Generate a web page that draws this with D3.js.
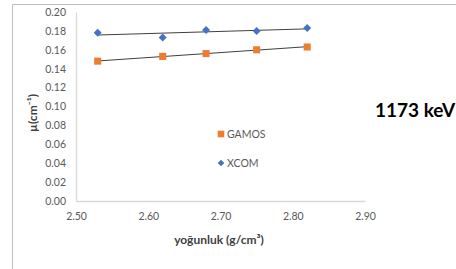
<!DOCTYPE html>
<html>
<head>
<meta charset="utf-8">
<script src="https://cdn.jsdelivr.net/npm/d3@7"></script>
<style>
	body { margin: 0; background: #fff; }
	svg { display: block; font-family: Lato, 'Open Sans', sans-serif; }
</style>
</head>
<body>
<div id="chart"></div>
<script>
const WIDTH = 456;
const HEIGHT = 269;

// density values (g/cm3)
const densities = [2.53, 2.62, 2.68, 2.75, 2.82];
const gamosValues = [0.148, 0.153, 0.156, 0.160, 0.163];
const xcomValues = [0.178, 0.173, 0.181, 0.180, 0.183];
const xTicks = [2.50, 2.60, 2.70, 2.80, 2.90];
const yTicks = [0.00, 0.02, 0.04, 0.06, 0.08, 0.10, 0.12, 0.14, 0.16, 0.18, 0.20];

// diamonds are squares turned 45 degrees, like the office-style marker
const series = [
	{ name: 'GAMOS', values: gamosValues, color: '#ed7d31', size: 50, angle: 0, legendSize: 44 },
	{ name: 'XCOM', values: xcomValues, color: '#4472c4', size: 32, angle: 45, legendSize: 22 }
];

const margin = { left: 76, top: 12, right: 91, bottom: 68 };

const svg = d3.select('#chart')
	.append('svg')
	.attr('width', WIDTH)
	.attr('height', HEIGHT);

// outer chart frame (runs past the right and bottom of the picture)
svg.append('rect')
	.attr('x', 12.5).attr('y', 4.5)
	.attr('width', 500).attr('height', 300)
	.attr('fill', 'none')
	.attr('stroke', '#bfbfbf');

const x = d3.scaleLinear().domain([2.5, 2.9]).range([margin.left, WIDTH - margin.right]);
const y = d3.scaleLinear().domain([0, 0.2]).range([HEIGHT - margin.bottom, margin.top]);

const xAxis = svg.append('g')
	.attr('transform', `translate(0,${y(0)})`)
	.call(d3.axisBottom(x).tickValues(xTicks).tickFormat(d3.format('.2f')).tickSize(0).tickPadding(12));
xAxis.select('.domain').attr('stroke', '#d9d9d9').attr('stroke-width', 1.3);

const yAxis = svg.append('g')
	.attr('transform', `translate(${x(2.5)},0)`)
	.call(d3.axisLeft(y).tickValues(yTicks).tickFormat(d3.format('.2f')).tickSize(0).tickPadding(10));
yAxis.select('.domain').attr('stroke', '#d9d9d9').attr('stroke-width', 1.3);

svg.selectAll('.tick text')
	.attr('fill', '#595959')
	.style('font-size', '10.5px')
	.style('font-family', 'Lato, sans-serif');

// linear trendlines (least squares over the plotted points)
function linearFit(xs, ys) {
	const mx = d3.mean(xs), my = d3.mean(ys);
	const slope = d3.sum(xs, (v, i) => (v - mx) * (ys[i] - my)) / d3.sum(xs, v => (v - mx) ** 2);
	return v => my + slope * (v - mx);
}

const line = d3.line().x(d => x(d[0])).y(d => y(d[1]));

series.forEach(s => {
	const fit = linearFit(densities, s.values);
	const ends = d3.extent(densities);
	svg.append('path')
		.attr('d', line(ends.map(v => [v, fit(v)])))
		.attr('stroke', '#404040')
		.attr('stroke-width', 1)
		.attr('fill', 'none');
});

series.forEach(s => {
	svg.append('g')
		.selectAll('path')
		.data(densities)
		.join('path')
		.attr('transform', (d, i) => `translate(${x(d)},${y(s.values[i])}) rotate(${s.angle})`)
		.attr('d', d3.symbol().type(d3.symbolSquare).size(s.size))
		.attr('fill', s.color);
});

// legend
const legend = svg.append('g').attr('transform', 'translate(221,134)');
series.forEach((s, i) => {
	const item = legend.append('g').attr('transform', `translate(0,${i * 29})`);
	item.append('path')
		.attr('transform', `rotate(${s.angle})`)
		.attr('d', d3.symbol().type(d3.symbolSquare).size(s.legendSize))
		.attr('fill', s.color);
	item.append('text')
		.attr('x', 6)
		.attr('y', 4)
		.attr('fill', '#595959')
		.style('font-size', '10.5px')
		.text(s.name);
});

// axis titles
svg.append('text')
	.attr('x', 219)
	.attr('y', 244)
	.attr('text-anchor', 'middle')
	.attr('fill', '#404040')
	.style('font-size', '12px')
	.style('font-weight', 'bold')
	.text('yoğunluk (g/cm³)');

svg.append('text')
	.attr('transform', 'translate(37,113) rotate(-90)')
	.attr('text-anchor', 'middle')
	.attr('fill', '#404040')
	.style('font-size', '12px')
	.style('font-weight', 'bold')
	.text('µ(cm⁻¹)');

svg.append('text')
	.attr('x', 375)
	.attr('y', 117)
	.attr('fill', '#000')
	.style('font-size', '19px')
	.style('font-weight', 'bold')
	.text('1173 keV');
</script>
</body>
</html>
